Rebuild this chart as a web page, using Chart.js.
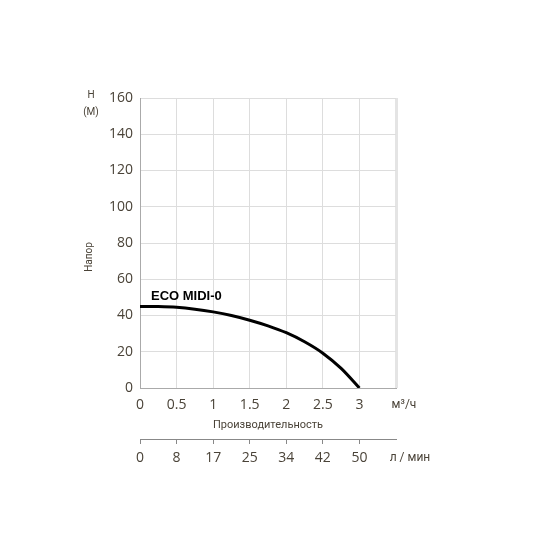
<!DOCTYPE html>
<html>
<head>
<meta charset="utf-8">
<script src="https://cdn.jsdelivr.net/npm/chart.js@4/dist/chart.umd.min.js"></script>
<style>
  html, body { margin: 0; background: #fff; }
  #wrap { width: 550px; height: 550px; }
</style>
</head>
<body>
<div id="wrap"><canvas id="chart"></canvas></div>
<script>
'use strict';

/* ── data ── */
const flowM3h   = [0, 0.25, 0.5, 0.75, 1, 1.25, 1.5, 1.75, 2, 2.25, 2.5, 2.75, 3];
const headM     = [45, 44.9, 44.5, 43.5, 42, 40, 37.4, 34.3, 30.5, 25.5, 19.2, 10.8, 0];
const flowTicks = [0, 0.5, 1, 1.5, 2, 2.5, 3];
const lpmLabels = ['0', '8', '17', '25', '34', '42', '50'];
const seriesName = 'ECO MIDI-0';

const TXT  = '#4a4338';
const GRID = '#dddddd';

/* ── extra texts: units, axis names, curve label ── */
const textPlugin = {
  id: 'texts',
  afterDraw(chart) {
    const { ctx, scales: { x, y } } = chart;
    ctx.save();
    ctx.fillStyle = TXT;
    ctx.textAlign = 'center';
    ctx.textBaseline = 'middle';

    ctx.font = '10px Roboto';
    ctx.fillText('H', 91, 95);
    ctx.fillText('(M)', 91, 112);

    ctx.save();
    ctx.translate(89.5, 257);
    ctx.rotate(-Math.PI / 2);
    ctx.fillText('Напор', 0, 0);
    ctx.restore();

    ctx.font = '12px Roboto';
    ctx.fillText('м³/ч', x.getPixelForValue(3.5) + 8, 405);
    ctx.fillText('л / мин', x.getPixelForValue(3.5) + 14, 458);

    ctx.fillStyle = '#000';
    ctx.font = 'bold 13px "Liberation Sans", Arial';
    ctx.textAlign = 'left';
    ctx.fillText(seriesName, x.getPixelForValue(0) + 11, y.getPixelForValue(45) - 10);
    ctx.restore();
  }
};

new Chart(document.getElementById('chart'), {
  type: 'line',
  data: {
    datasets: [{
      label: seriesName,
      data: flowM3h.map((q, i) => ({ x: q, y: headM[i] })),
      borderColor: '#000',
      borderWidth: 3,
      pointRadius: 0,
      cubicInterpolationMode: 'monotone',
      fill: false
    }]
  },
  options: {
    responsive: true,
    maintainAspectRatio: false,
    animation: false,
    events: [],
    layout: { padding: { left: 60, top: 98, right: 154, bottom: 76 } },
    plugins: { legend: { display: false }, tooltip: { enabled: false } },
    scales: {
      x: {
        type: 'linear', position: 'bottom', min: 0, max: 3.5,
        afterFit: s => { s.height = 51; },
        afterBuildTicks: s => { s.ticks = [...flowTicks, 3.5].map(v => ({ value: v })); },
        ticks: {
          color: TXT, font: { family: 'Open Sans', size: 14 }, padding: 9,
          autoSkip: false, maxRotation: 0,
          callback: v => (v > 3 ? '' : String(v))
        },
        grid: {
          drawTicks: false,
          color: c => (c.tick && c.tick.value === 3.5 ? '#e4e4e4' : GRID),
          lineWidth: c => (c.tick && c.tick.value === 3.5 ? 3 : 1)
        },
        border: { color: '#aaaaaa', width: 1 },
        title: {
          display: true, text: 'Производительность', color: TXT,
          font: { family: 'Roboto', size: 11 }, padding: { top: 0, bottom: 7 }
        }
      },
      x2: {
        type: 'linear', position: 'bottom', min: 0, max: 3.5,
        afterFit: s => { s.height = 35; },
        afterBuildTicks: s => { s.ticks = flowTicks.map(v => ({ value: v })); },
        ticks: {
          color: TXT, font: { family: 'Open Sans', size: 14 }, padding: 6,
          autoSkip: false, maxRotation: 0,
          callback: (v, i) => lpmLabels[i]
        },
        grid: { drawOnChartArea: false, drawTicks: true, tickLength: 5, tickColor: '#888' },
        border: { color: '#888', width: 1 }
      },
      y: {
        type: 'linear', min: 0, max: 160,
        afterFit: s => { s.width = 80; },
        ticks: { stepSize: 20, color: TXT, font: { family: 'Open Sans', size: 14 }, padding: 7 },
        grid: { drawTicks: false, color: GRID },
        border: { color: '#aaaaaa', width: 1 }
      }
    }
  },
  plugins: [textPlugin]
});
</script>
</body>
</html>
